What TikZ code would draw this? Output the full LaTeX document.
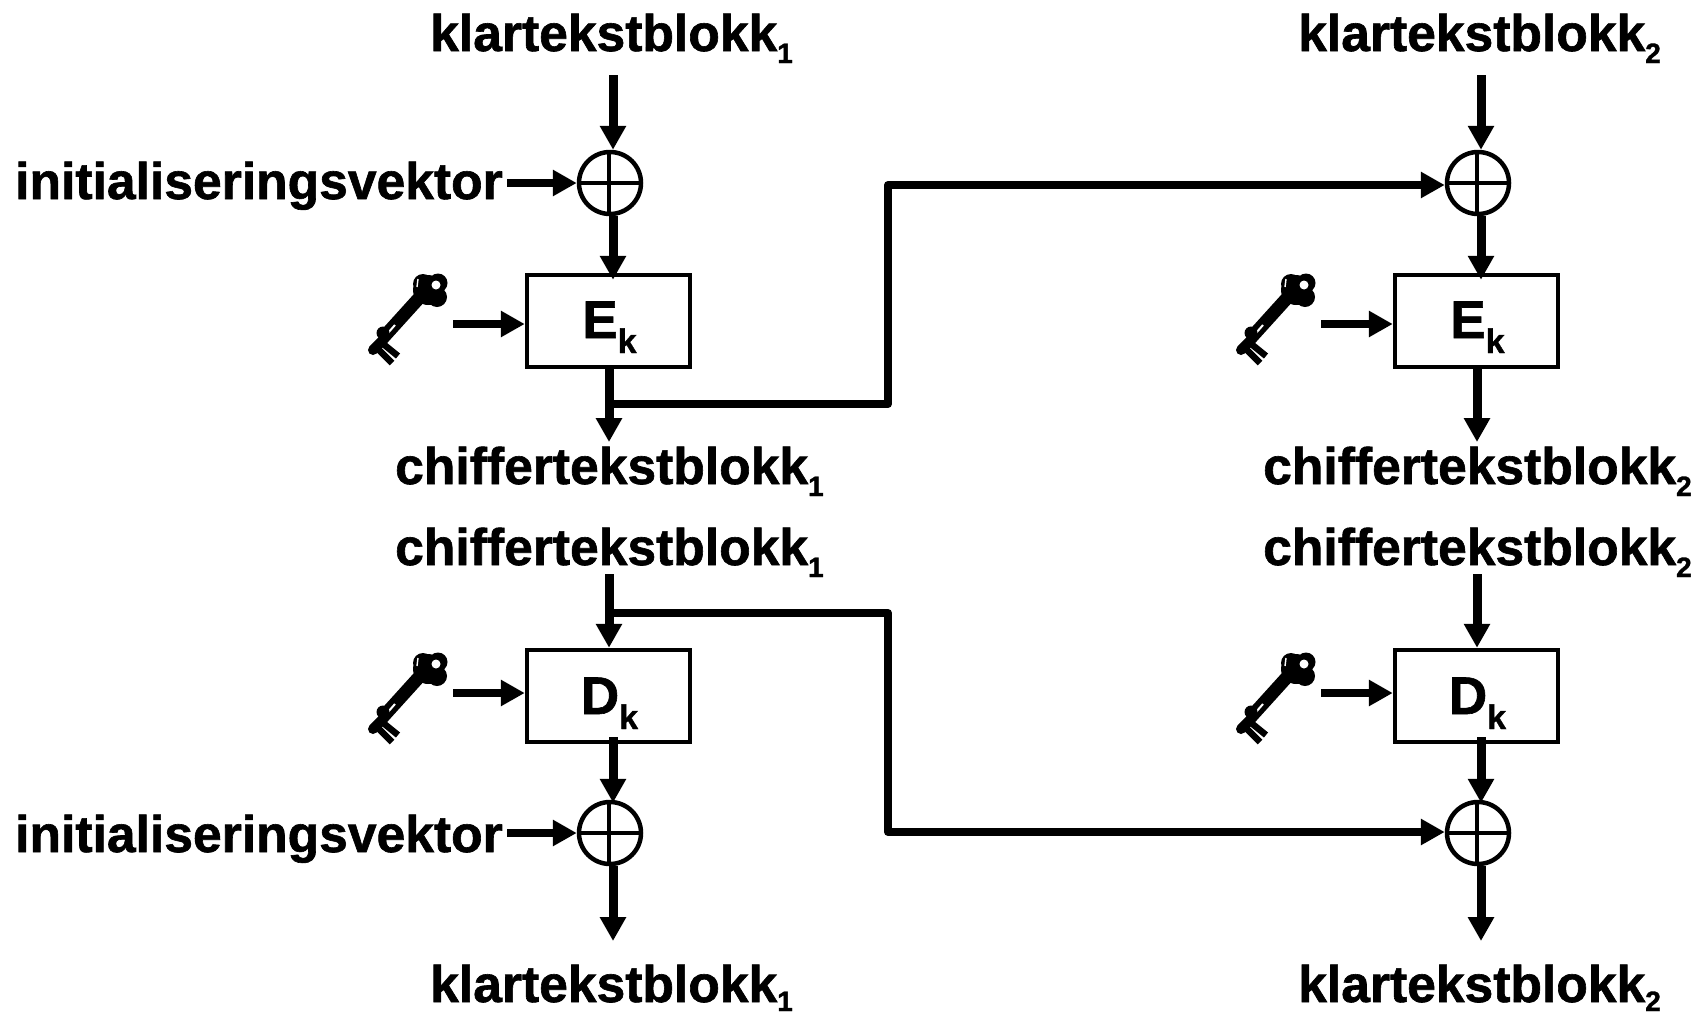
\documentclass[tikz,border=0pt]{standalone}
\usepackage{fontspec}
\setmainfont{Liberation Sans}[BoldFeatures={FakeBold=1.2}]
\usetikzlibrary{arrows.meta}
\newcommand{\lowtxt}[3][-12pt]{#2\raisebox{#1}{\fontsize{28}{28}\selectfont #3}}
\newcommand{\blktxt}[3]{\hspace{2pt}\raisebox{#3}[0pt][0pt]{#1\raisebox{-15pt}{\fontsize{34}{34}\selectfont #2}}}
\tikzset{
  x=1pt,y=-1pt,
  lbl/.style={inner sep=0pt,font=\fontsize{51.6}{52}\selectfont\bfseries,anchor=base west},
  blk/.style={draw=black,line width=4.5pt,minimum width=163pt,minimum height=92pt,inner sep=0pt,font=\fontsize{53}{53}\selectfont\bfseries},
  xorc/.style={circle,draw=black,line width=4.5pt,minimum size=62pt,inner sep=0pt},
  crossl/.style={line width=4pt},
  arr/.style={line width=9pt,-{Triangle[length=24pt,width=25pt]}},
  arrthin/.style={line width=8pt,-{Triangle[length=24pt,width=25pt]}},
  wire/.style={line width=8pt,line join=round},
  pics/keyicon/.style={code={
    \fill[black] (73,29) circle[radius=10] (88,28) circle[radius=9.5] (87,42) circle[radius=10] (78,35) circle[radius=15];
    \fill[white] (86,30) circle[radius=4.5];
    \draw[white,line width=1.4pt] (68,24) -- (67,32);
    \draw[black,line width=13pt] (70,42) -- (32,84);
    \draw[white,line width=2pt] (45,70) -- (38,78);
    \fill[black] (33,78) circle[radius=6.5];
    \draw[black,line width=10pt,line cap=round] (33,85) -- (23,95);
    \draw[black,line width=6.5pt] (32,88) -- (48,101);
    \draw[black,line width=6.5pt] (27,93) -- (42,108);
  }}
}
\begin{document}
\begin{tikzpicture}
\useasboundingbox (0,0) rectangle (1700,1015);
\foreach \cx/\n/\q in {0/1/a,868/2/b}{
  \begin{scope}[xshift=\cx pt]
  % encryption
  \node[lbl] (pt\q) at (430,51) {\lowtxt{klartekstblokk}{\n}};
  \node[xorc] (xt\q) at (610,183) {};
  \draw[crossl] (xt\q.west) -- (xt\q.east) ([xshift=-1pt]xt\q.north) -- ([xshift=-1pt]xt\q.south);
  \node[blk] (e\q) at (608.5,321) {\blktxt{E}{k}{-17pt}};
  \node[lbl] (ct\q) at (395,484) {\lowtxt{chiffertekstblokk}{\n}};
  \pic at (350,255) {keyicon};
  \coordinate (kt\q) at (453,324);
  \coordinate (ts\q) at (613,75);
  \coordinate (te\q) at (609,442);
  \draw[arrthin] (kt\q) -- (kt\q -| e\q.west);
  \draw[arr] (ts\q) -- ([xshift=3pt]xt\q.north);
  \draw[arr] ([xshift=3pt]xt\q.south) -- ([xshift=4.5pt,yshift=-7pt]e\q.north);
  \draw[arr] (te\q |- e\q.south) -- (te\q);
  % decryption
  \node[lbl] (cb\q) at (395,565) {\lowtxt{chiffertekstblokk}{\n}};
  \node[blk] (d\q) at (608.5,696) {\blktxt{D}{k}{-18pt}};
  \pic at (350,634) {keyicon};
  \coordinate (kb\q) at (453,693);
  \coordinate (cs\q) at (609,574);
  \coordinate (pe\q) at (613,941);
  \node[xorc] (xb\q) at (610,833) {};
  \draw[crossl] (xb\q.west) -- (xb\q.east) ([xshift=-1pt]xb\q.north) -- ([xshift=-1pt]xb\q.south);
  \node[lbl] (pb\q) at (430,1002) {\lowtxt[-9pt]{klartekstblokk}{\n}};
  \draw[arrthin] (kb\q) -- (kb\q -| d\q.west);
  \draw[arr] (cs\q) -- (cs\q |- d\q.north);
  \draw[arr] ([xshift=4.5pt,yshift=7pt]d\q.south) -- ([xshift=3pt,yshift=-3pt]xb\q.north);
  \draw[arr] ([xshift=3pt]xb\q.south) -- (pe\q);
  \end{scope}
}
% initialisation vectors
\node[lbl] (iv1) at (15,199) {initialiseringsvektor};
\node[lbl] (iv2) at (15,852) {initialiseringsvektor};
\coordinate (iva) at (507,183);
\coordinate (ivb) at (507,833);
\draw[arrthin] (iva) -- (xta.west);
\draw[arrthin] (ivb) -- (xba.west);
% chaining
\coordinate (ba) at (605,404);
\coordinate (bb) at (888,404);
\coordinate (bc) at (888,185);
\draw[wire,-{Triangle[length=24pt,width=25pt]}] (ba) -- (bb) -- (bc) -- (bc -| xtb.west);
\coordinate (da) at (605,613);
\coordinate (db) at (888,613);
\coordinate (dc) at (888,832);
\draw[wire,-{Triangle[length=24pt,width=25pt]}] (da) -- (db) -- (dc) -- (dc -| xbb.west);
\end{tikzpicture}
\end{document}
